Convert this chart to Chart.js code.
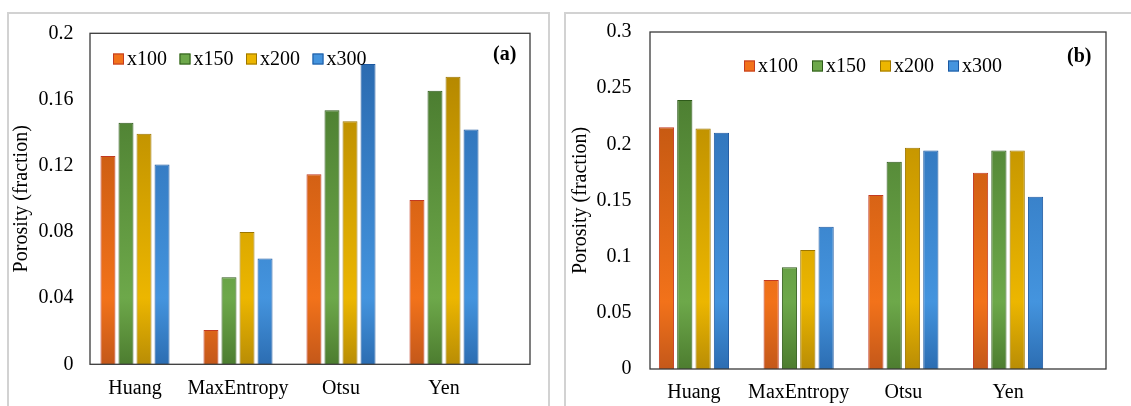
<!DOCTYPE html>
<html>
<head>
<meta charset="utf-8">
<script src="https://cdn.jsdelivr.net/npm/chart.js@4.4.0/dist/chart.umd.min.js"></script>
<style>
  html, body { margin: 0; padding: 0; background: #fff; }
  body { width: 1131px; height: 406px; position: relative; overflow: hidden; }
  .frame { position: absolute; border: 2px solid #d2d2d2; box-sizing: border-box; }
  #frameA { left: 7px; top: 12px; width: 543px; height: 420px; }
  #frameB { left: 564px; top: 12px; width: 600px; height: 420px; }
  canvas { position: absolute; top: 0; }
  #chartA { left: 0; }
  #chartB { left: 556px; }
</style>
</head>
<body>
<div class="frame" id="frameA"></div>
<div class="frame" id="frameB"></div>
<canvas id="chartA" width="556" height="406"></canvas>
<canvas id="chartB" width="575" height="406"></canvas>
<script>
// Datos
const categories = ['Huang', 'MaxEntropy', 'Otsu', 'Yen'];
const seriesNames = ['x100', 'x150', 'x200', 'x300'];

// Panel (a)
const a_x100 = [0.1259, 0.0207, 0.1149, 0.0992];
const a_x150 = [0.1460, 0.0526, 0.1535, 0.1653];
const a_x200 = [0.1393, 0.0800, 0.1468, 0.1738];
const a_x300 = [0.1208, 0.0640, 0.1815, 0.1419];
const ticksA = ['0', '0.04', '0.08', '0.12', '0.16', '0.2'];

// Panel (b)
const b_x100 = [0.2152, 0.0793, 0.1550, 0.1748];
const b_x150 = [0.2395, 0.0906, 0.1846, 0.1944];
const b_x200 = [0.2140, 0.1060, 0.1970, 0.1944];
const b_x300 = [0.2104, 0.1267, 0.1944, 0.1534];
const ticksB = ['0', '0.05', '0.1', '0.15', '0.2', '0.25', '0.3'];

const SERIF = '"Liberation Serif", "Times New Roman", serif';

// Colores de cada serie (arriba oscuro, abajo claro)
const palette = [
    { top: '#b04d0e', mid: '#f2721a', bot: '#c4581a', border: '#c23a22' },
    { top: '#43722a', mid: '#6da84a', bot: '#4d7d30', border: '#2e5a1a' },
    { top: '#ab8000', mid: '#ecb600', bot: '#b98d05', border: '#9c7600' },
    { top: '#2866ab', mid: '#4494de', bot: '#2c6db2', border: '#1c58a0' }
];

function barGradient(ctx, colors) {
    const area = ctx.chart.chartArea;
    if (!area) return colors.mid;
    const g = ctx.chart.ctx.createLinearGradient(0, area.top, 0, area.bottom);
    g.addColorStop(0, colors.top);
    g.addColorStop(0.8, colors.mid);
    g.addColorStop(1, colors.bot);
    return g;
}

// Marco del area de trazado, leyenda y etiqueta del panel
const panelDecor = {
    id: 'panelDecor',
    afterDraw(chart, args, opts) {
        const c = chart.ctx;
        const a = chart.chartArea;
        c.save();
        c.strokeStyle = '#3a3a3a';
        c.lineWidth = 1.3;
        c.strokeRect(a.left + opts.boxLeft, a.top, a.right + opts.boxRight - (a.left + opts.boxLeft), a.bottom - a.top);

        // Leyenda
        c.font = '20px ' + SERIF;
        c.textBaseline = 'middle';
        c.textAlign = 'left';
        chart.data.datasets.forEach((ds, i) => {
            const x = opts.legendX + i * opts.legendStep;
            const y = opts.legendY;
            c.fillStyle = palette[i].mid;
            c.fillRect(x, y - 5.5, 11, 11);
            c.strokeStyle = palette[i].border;
            c.lineWidth = 1;
            c.strokeRect(x + 0.5, y - 5, 10, 10);
            c.fillStyle = '#000';
            c.fillText(ds.label, x + 14, y + 1);
        });

        c.font = 'bold 20px ' + SERIF;
        c.fillStyle = '#000';
        c.fillText(opts.tag, opts.tagX, opts.tagY);
        c.restore();
    }
};

function makeChart(canvasId, series, tickLabels, maxY, step, cfg) {
    const ctx = document.getElementById(canvasId).getContext('2d');
    return new Chart(ctx, {
        type: 'bar',
        data: {
            labels: categories,
            datasets: series.map((values, i) => ({
                label: seriesNames[i],
                data: values,
                backgroundColor: (context) => barGradient(context, palette[i]),
                borderColor: palette[i].border,
                borderWidth: 1,
                categoryPercentage: 0.7,
                barPercentage: 0.83
            }))
        },
        options: {
            responsive: false,
            animation: false,
            layout: {
                padding: { left: cfg.padLeft, top: cfg.padTop, right: cfg.padRight, bottom: 0 }
            },
            plugins: {
                legend: { display: false },
                tooltip: { enabled: false },
                panelDecor: cfg.decor
            },
            scales: {
                x: {
                    grid: { display: false, drawTicks: false },
                    border: { display: false },
                    ticks: {
                        color: '#000',
                        font: { family: SERIF, size: 20 },
                        padding: 12,
                        maxRotation: 0,
                        autoSkip: false
                    },
                    afterFit: (s) => { s.height = cfg.xHeight; }
                },
                y: {
                    min: 0,
                    max: maxY,
                    grid: { display: false, drawTicks: false },
                    border: { display: false },
                    ticks: {
                        stepSize: step,
                        color: '#000',
                        font: { family: SERIF, size: 20 },
                        padding: 10,
                        callback: (v, i) => tickLabels[i]
                    },
                    title: {
                        display: true,
                        text: 'Porosity (fraction)',
                        color: '#000',
                        font: { family: SERIF, size: 20 },
                        padding: 0
                    },
                    afterFit: (s) => { s.width = cfg.yWidth; }
                }
            }
        },
        plugins: [panelDecor]
    });
}

document.addEventListener('DOMContentLoaded', function() {
    makeChart('chartA', [a_x100, a_x150, a_x200, a_x300], ticksA, 0.2, 0.04, {
        padLeft: 10, padTop: 33.3, padRight: 60.5,
        yWidth: 73.5, xHeight: 41.7,
        decor: {
            boxLeft: 6.5, boxRight: 34.5,
            legendX: 113, legendY: 59, legendStep: 66.5,
            tag: '(a)', tagX: 493, tagY: 55
        }
    });

    makeChart('chartB', [b_x100, b_x150, b_x200, b_x300], ticksB, 0.3, 0.05, {
        padLeft: 13, padTop: 32, padRight: 70.6,
        yWidth: 72.6, xHeight: 37,
        decor: {
            boxLeft: 8.4, boxRight: 45.6,
            legendX: 188, legendY: 66, legendStep: 68,
            tag: '(b)', tagX: 511, tagY: 57
        }
    });
});
</script>
</body>
</html>
